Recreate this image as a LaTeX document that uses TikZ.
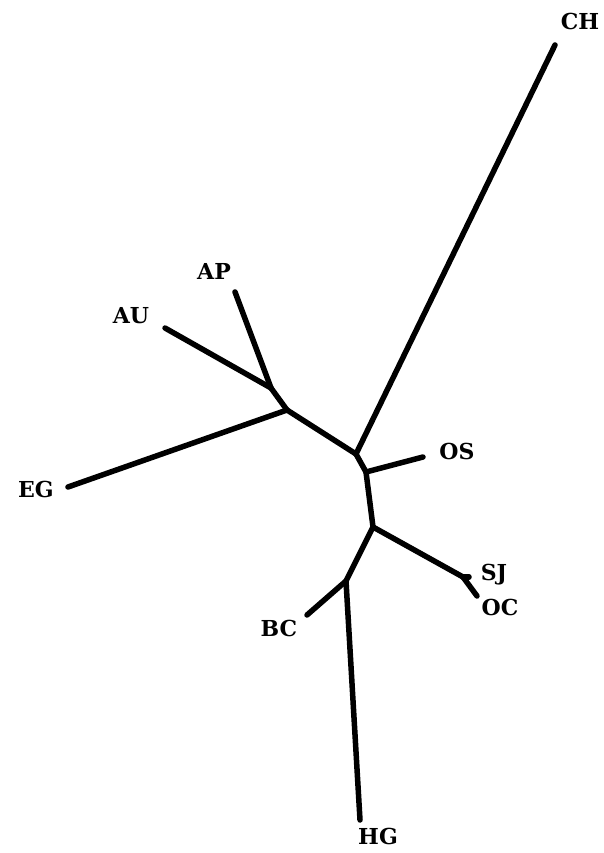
\documentclass[tikz,border=0pt]{standalone}
\usepackage{fontspec}
\newfontfamily\labfont{DejaVu Serif}
\begin{document}
\begin{tikzpicture}[x=1pt,y=-1pt,
  br/.style={line width=5.5pt,line cap=round,line join=round},
  lab/.style={font=\labfont\fontsize{22}{22}\selectfont\bfseries,inner sep=0pt,anchor=center}]
\useasboundingbox (0,0) rectangle (603,853);
% internal nodes
\coordinate (A) at (356,454);
\coordinate (B) at (287,410);
\coordinate (C) at (271,388);
\coordinate (D) at (366,472);
\coordinate (E) at (373,527);
\coordinate (F) at (463,577);
\coordinate (G) at (346,581);
% tips
\coordinate (tCH) at (555,45);
\coordinate (tEG) at (68,487);
\coordinate (tAU) at (165,328);
\coordinate (tAP) at (235,292);
\coordinate (tOS) at (423,457);
\coordinate (tSJ) at (469,577);
\coordinate (tOC) at (477,596);
\coordinate (tBC) at (307,615);
\coordinate (tHG) at (360,820);
% branches
\draw[br] (A) -- (tCH);
\draw[br] (A) -- (B);
\draw[br] (B) -- (tEG);
\draw[br] (B) -- (C);
\draw[br] (C) -- (tAU);
\draw[br] (C) -- (tAP);
\draw[br] (A) -- (D);
\draw[br] (D) -- (tOS);
\draw[br] (D) -- (E);
\draw[br] (E) -- (F);
\draw[br] (F) -- (tSJ);
\draw[br] (F) -- (tOC);
\draw[br] (E) -- (G);
\draw[br] (G) -- (tBC);
\draw[br] (G) -- (tHG);
% labels
\node[lab] (lCH) at (580,21) {CH};
\node[lab] (lAP) at (214,271) {AP};
\node[lab] (lAU) at (131,316) {AU};
\node[lab] (lEG) at (36,489) {EG};
\node[lab] (lOS) at (457,451) {OS};
\node[lab] (lSJ) at (494,575) {SJ};
\node[lab] (lOC) at (500,607) {OC};
\node[lab] (lBC) at (279,628) {BC};
\node[lab] (lHG) at (378,836) {HG};
\end{tikzpicture}
\end{document}
